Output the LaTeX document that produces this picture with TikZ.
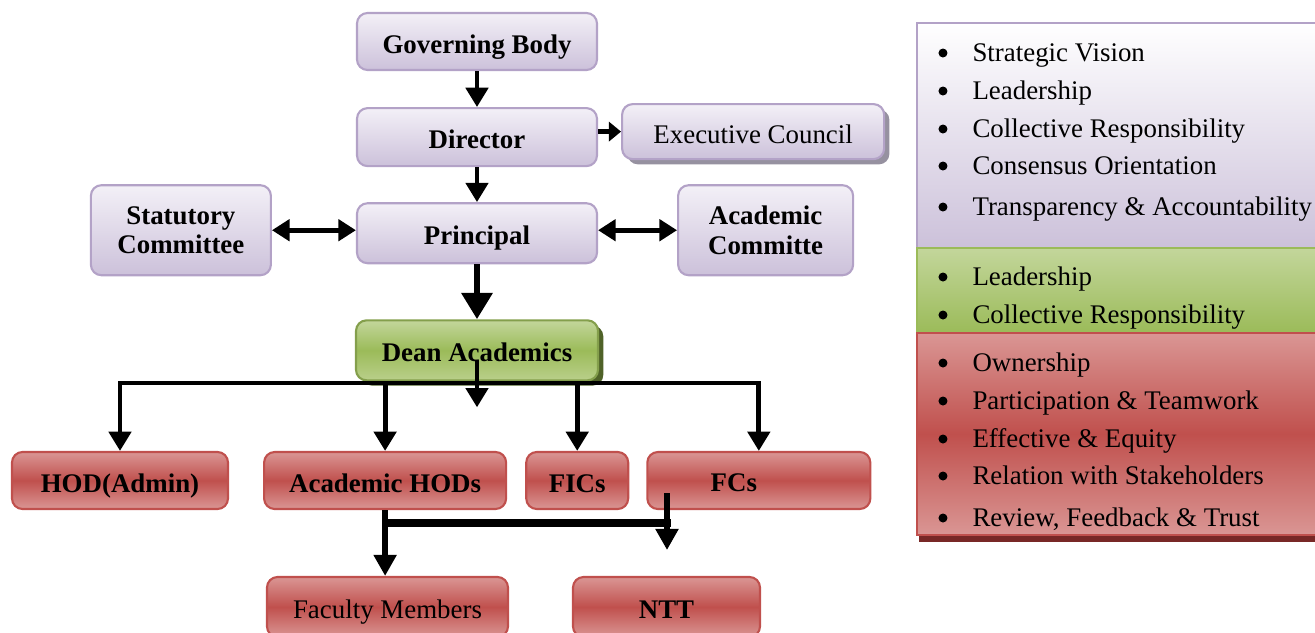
\documentclass[tikz,border=0pt]{standalone}
\usepackage{fontspec}
\setmainfont{Liberation Serif}
\usepackage{tikz}
\usetikzlibrary{arrows.meta,positioning,shadows}

\definecolor{lavline}{RGB}{179,162,199}
\definecolor{lavtop}{RGB}{243,240,247}
\definecolor{lavbot}{RGB}{204,193,218}
\definecolor{excshade}{RGB}{150,145,160}
\definecolor{grntop}{RGB}{195,214,155}
\definecolor{grnmid}{RGB}{155,187,89}
\definecolor{grnshade}{RGB}{79,98,40}
\definecolor{redtop}{RGB}{218,150,148}
\definecolor{redmid}{RGB}{192,80,77}
\definecolor{redshade}{RGB}{120,40,38}

\begin{document}
\fontsize{15.3}{17}\selectfont
\begin{tikzpicture}[node distance=0.7cm,
    flow/.style={line width=2.8pt,-{Triangle[width=12.5pt,length=11pt]}},
    shortflow/.style={line width=2.8pt,-{Triangle[width=11pt,length=7pt]}},
    twoway/.style={line width=2.8pt,{Triangle[width=12pt,length=10pt]}-{Triangle[width=12pt,length=10pt]}},
    bigflow/.style={line width=3.8pt,-{Triangle[width=17pt,length=15pt]}},
    lowflow/.style={line width=3.6pt,-{Triangle[width=12.5pt,length=12pt]}},
    lowline/.style={line width=4pt},
    semithick]
    \tikzstyle{box}=[rectangle,rounded corners=6pt,line width=1.2pt,align=center,inner sep=2pt,
      minimum height=1.14cm,text height=0.46cm,text depth=0cm]
    \tikzstyle{lavbox}=[box,draw=lavline,top color=lavtop,bottom color=lavbot,font=\bfseries]
    \tikzstyle{redbox}=[box,draw=redmid,top color=redtop,bottom color=redtop,middle color=redmid,font=\bfseries]
    \tikzstyle{point}=[anchor=base west,inner sep=0pt,text height=0.42cm,text depth=0.1cm,
      label={[circle,fill=black,inner sep=0pt,minimum size=0.18cm,label distance=0.48cm]left:{}}]

    \useasboundingbox (0,0) rectangle (26.3,-12.64);
    \clip (0,0) rectangle (26.3,-12.64);

    % chart
    \node[lavbox,minimum width=4.8cm] (gb) at (9.54,-0.83) {Governing Body};
    \node[lavbox,minimum width=4.8cm,minimum height=1.16cm] (dir) [below=0.72cm of gb] {Director};
    \node[lavbox,font=\mdseries,minimum width=5.24cm,minimum height=1.1cm,
      drop shadow={shadow xshift=3pt,shadow yshift=-3pt,fill=excshade,opacity=1}]
      (exec) [right=0.46cm of dir,yshift=0.11cm] {Executive Council};
    \node[lavbox,minimum width=4.8cm,minimum height=1.2cm] (pri) [below=of dir] {Principal};
    \node[lavbox,text height=,text depth=,minimum width=3.6cm,minimum height=1.8cm] (stat)
      [left=1.68cm of pri,yshift=0.06cm] {Statutory\\Committee};
    \node[lavbox,text height=,text depth=,minimum width=3.5cm,minimum height=1.8cm] (acom)
      [right=1.58cm of pri,yshift=0.06cm] {Academic\\Committe};
    \node[box,draw=grnmid!85!black,top color=grntop,bottom color=grntop!75!grnmid,middle color=grnmid,
      font=\bfseries,minimum width=4.84cm,minimum height=1.2cm,
      drop shadow={shadow xshift=3pt,shadow yshift=-3pt,fill=grnshade,opacity=1}]
      (dean) [below=1.1cm of pri] {Dean Academics};

    \node[redbox,minimum width=4.32cm] (hod) at (2.4,-9.61) {HOD(Admin)};
    \node[redbox,minimum width=4.84cm] (ahod) [right=0.68cm of hod] {Academic HODs};
    \node[redbox,minimum width=2.04cm] (fic) [right=0.36cm of ahod] {FICs};
    \node[redbox,minimum width=4.46cm,label={[xshift=-0.5cm,yshift=-0.05cm,font=\bfseries]center:FCs}] (fc)
      [right=0.34cm of fic] {};
    \node[redbox,font=\mdseries,minimum width=4.82cm,minimum height=1.2cm] (fac) at (7.75,-12.14) {Faculty Members};
    \node[redbox,minimum width=3.74cm,minimum height=1.2cm] (ntt) at (13.33,-12.14) {NTT};

    \coordinate (bus) at (9.5,-7.66);
    \coordinate (drop) at ([yshift=-1.14cm]dean.center);
    \coordinate (fcin) at (13.34,-9.86);
    \coordinate (split) at (13.34,-10.46);
    \coordinate (nttdrop) at (13.34,-11.0);

    \draw[flow] (gb) -- (dir);
    \draw[shortflow] (dir.east |- exec.west) -- (exec.west);
    \draw[flow] (dir) -- (pri);
    \draw[twoway] (stat.east) -- (pri.west |- stat.east);
    \draw[twoway] (pri.east |- acom.west) -- (acom.west);
    \draw[bigflow] (pri) -- (dean);

    \draw[flow] (fc.north |- bus) -| (hod.north);
    \draw[flow] (hod.north |- bus) -| (fc.north);
    \draw[flow] (ahod.north |- bus) -- (ahod.north);
    \draw[flow] (fic.north |- bus) -- (fic.north);
    \draw[flow] ([yshift=-0.2cm]dean.center) -- (drop);

    \draw[lowflow] (ahod.south) -- (ahod.south |- fac.north);
    \draw[lowline] (ahod.south |- split) -- ([xshift=2pt]split);
    \draw[lowflow] (fcin) -- (nttdrop);

    % values
    \path[draw=lavline,line width=0.8pt,top color=white,bottom color=lavbot] (18.34,-0.46) rectangle (26.8,-4.96);
    \path[draw=grnmid,line width=0.8pt,top color=grntop,bottom color=grnmid] (18.34,-4.96) rectangle (26.8,-6.66);
    \path[draw=redmid,line width=0.8pt,top color=redtop,bottom color=redtop,middle color=redmid,
      drop shadow={shadow xshift=1pt,shadow yshift=-4pt,fill=redshade,opacity=1}] (18.34,-6.66) rectangle (26.8,-10.70);

    \node[point] (vision) at (19.44,-1.22) {Strategic Vision};
    \node[point] (lead) at (19.44,-1.98) {Leadership};
    \node[point] (coll) at (19.44,-2.74) {Collective Responsibility};
    \node[point] (cons) at (19.44,-3.48) {Consensus Orientation};
    \node[point] (trans) at (19.44,-4.30) {Transparency \& Accountability};
    \node[point] (leadb) at (19.44,-5.70) {Leadership};
    \node[point] (collb) at (19.44,-6.46) {Collective Responsibility};
    \node[point] (own) at (19.44,-7.42) {Ownership};
    \node[point] (part) at (19.44,-8.18) {Participation \& Teamwork};
    \node[point] (eff) at (19.44,-8.94) {Effective \& Equity};
    \node[point] (rel) at (19.44,-9.68) {Relation with Stakeholders};
    \node[point] (rev) at (19.44,-10.52) {Review, Feedback \& Trust};
\end{tikzpicture}
\end{document}
